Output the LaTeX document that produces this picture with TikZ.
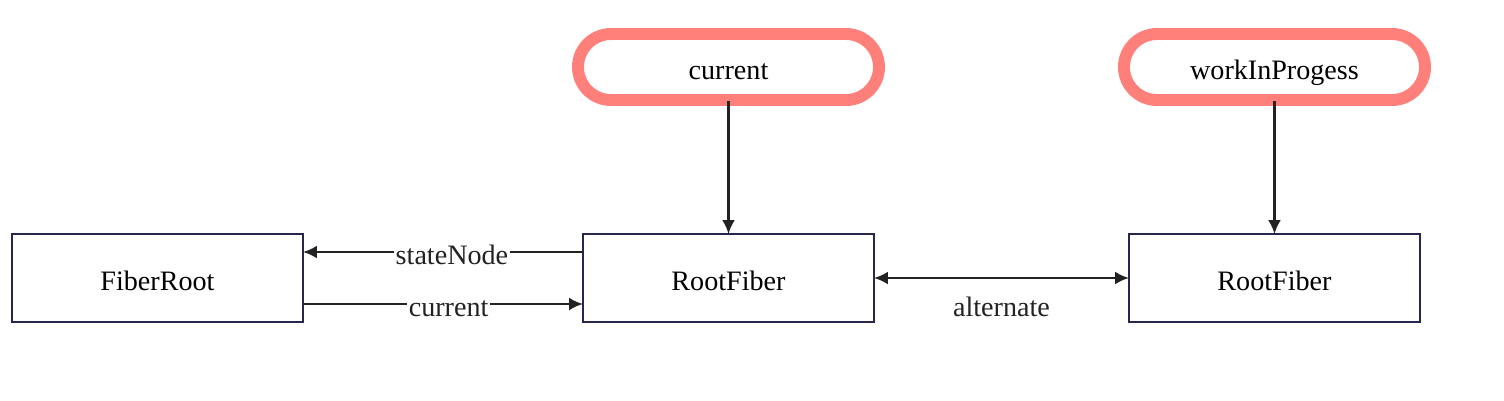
\documentclass[tikz,border=0pt]{standalone}
\usepackage{fontspec}
\setmainfont{Liberation Serif}
\usetikzlibrary{positioning}
\usetikzlibrary{arrows.meta}

\definecolor{boxline}{RGB}{38,38,78}
\definecolor{pillred}{RGB}{255,128,122}
\definecolor{arrowgray}{RGB}{34,34,34}

\begin{document}
\begin{tikzpicture}[x=0.1mm,y=-0.1mm,>={Latex[length=1.4mm,width=1.3mm]},
  font=\fontsize{8}{9.6}\selectfont,
  every node/.style={text height=2.5mm,text depth=0pt},
  fiber/.style={draw=boxline,line width=0.55pt,minimum width=29.1mm,minimum height=8.8mm,inner sep=0pt,outer sep=0pt},
  pointer/.style={draw=pillred,line width=3.4pt,rounded corners=3.3mm,minimum width=30.1mm,minimum height=6.6mm,inner sep=0pt},
  link/.style={draw=arrowgray,line width=0.7pt},
  tag/.style={fill=white,inner sep=0.5pt,text=arrowgray}]

\useasboundingbox (0,0) rectangle (1504,400);

\node [fiber] (fiberRoot) at (157.5,278) {FiberRoot};
\node [fiber] (rootFiberA) at (728.5,278) {RootFiber};
\node [fiber] (rootFiberB) at (1274.5,278) {RootFiber};

\node [pointer] (currentPtr) at (728.5,67) {current};
\node [pointer] (wipPtr) at (1274.5,67) {workInProgess};

\draw [link,->] ([yshift=0.5mm]currentPtr.south) -- (rootFiberA.north);
\draw [link,->] ([yshift=0.5mm]wipPtr.south) -- (rootFiberB.north);

\draw [link,->] ([yshift=2.6mm]rootFiberA.west) -- node [tag,pos=0.468] {stateNode} ([yshift=2.6mm]fiberRoot.east);
\draw [link,->] ([yshift=-2.6mm]fiberRoot.east) -- node [tag,pos=0.52] {current} ([yshift=-2.6mm]rootFiberA.west);
\draw [link,<->] (rootFiberA.east) -- node [text=arrowgray,yshift=-2.6mm] {alternate} (rootFiberB.west);

\end{tikzpicture}
\end{document}
